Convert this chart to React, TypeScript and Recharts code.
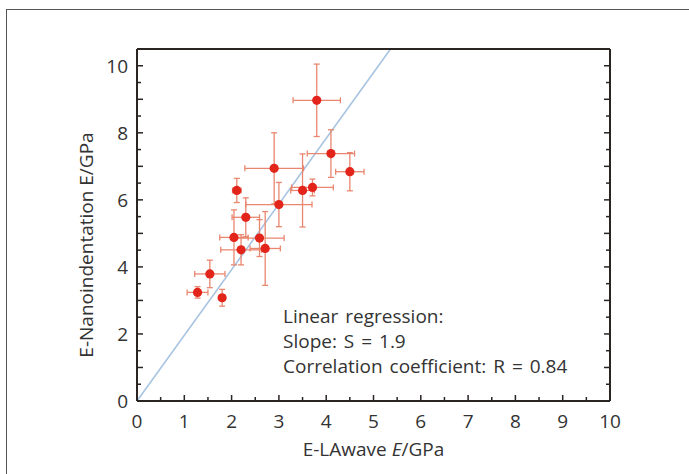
import {
  ScatterChart,
  Scatter,
  XAxis,
  YAxis,
  ErrorBar,
  ReferenceLine,
  Label,
  Customized,
} from "recharts";

// E-LAwave (x) vs E-Nanoindentation (y), GPa
const xVals = [1.28, 1.54, 1.8, 2.05, 2.11, 2.2, 2.3, 2.59, 2.71, 2.9, 3.0, 3.5, 3.71, 3.8, 4.1, 4.5];
const yVals = [3.24, 3.79, 3.08, 4.88, 6.28, 4.51, 5.48, 4.86, 4.55, 6.94, 5.86, 6.28, 6.37, 8.97, 7.38, 6.84];
const xErr = [0.22, 0.32, 0.06, 0.3, 0.09, 0.43, 0.29, 0.52, 0.32, 0.62, 0.7, 0.25, 0.44, 0.5, 0.5, 0.3];
const yErr = [0.17, 0.41, 0.25, 0.82, 0.36, 0.45, 0.58, 0.55, 1.1, 1.06, 0.66, 1.09, 0.25, 1.08, 0.71, 0.57];

// regression line end points
const fitX = [0, 5.36];
const fitY = [0, 10.5];

const xLabels = [0, 1, 2, 3, 4, 5, 6, 7, 8, 9, 10];
const yLabels = [0, 2, 4, 6, 8, 10];
const minorTicks = Array.from({ length: 21 }, (_, i) => i * 0.5);

const points = xVals.map((x, i) => ({ x, y: yVals[i], ex: xErr[i], ey: yErr[i] }));

const FONT = "'Open Sans', sans-serif";
const TEXT = "#333";
const AXIS = "#2a2422";

const tickLen = (v: number) => (Number.isInteger(v) ? 6 : 4);

const BottomTick = (p: any) => {
  const v = p.payload.value;
  return (
    <g>
      <line x1={p.x} x2={p.x} y1={p.y} y2={p.y - tickLen(v)} stroke={AXIS} strokeWidth={1.5} />
      {xLabels.includes(v) && (
        <text x={p.x} y={p.y + 27} textAnchor="middle" fontSize={19} fill={TEXT} fontFamily={FONT}>
          {v}
        </text>
      )}
    </g>
  );
};

const TopTick = (p: any) => (
  <line x1={p.x} x2={p.x} y1={p.y} y2={p.y + tickLen(p.payload.value)} stroke={AXIS} strokeWidth={1.5} />
);

const LeftTick = (p: any) => {
  const v = p.payload.value;
  return (
    <g>
      <line x1={p.x} x2={p.x + tickLen(v)} y1={p.y} y2={p.y} stroke={AXIS} strokeWidth={1.5} />
      {yLabels.includes(v) && (
        <text x={p.x - 9} y={p.y} dy="0.36em" textAnchor="end" fontSize={19} fill={TEXT} fontFamily={FONT}>
          {v}
        </text>
      )}
    </g>
  );
};

const RightTick = (p: any) => (
  <line x1={p.x} x2={p.x - tickLen(p.payload.value)} y1={p.y} y2={p.y} stroke={AXIS} strokeWidth={1.5} />
);

const Dot = (p: any) => <circle cx={p.cx} cy={p.cy} r={4.6} fill="#e3241b" />;

const XTitle = (p: any) => {
  const vb = p.viewBox;
  return (
    <text x={vb.x + vb.width / 2} y={vb.y + 55} textAnchor="middle" fontSize={19} fill={TEXT} fontFamily={FONT}>
      E-LAwave <tspan fontStyle="italic">E</tspan>/GPa
    </text>
  );
};

const YTitle = (p: any) => {
  const vb = p.viewBox;
  const cx = vb.x + vb.width - 51;
  const cy = vb.y + vb.height / 2 + 20;
  return (
    <text
      x={cx}
      y={cy}
      transform={`rotate(-90 ${cx} ${cy})`}
      textAnchor="middle"
      dy="0.36em"
      fontSize={19}
      fill={TEXT}
      fontFamily={FONT}
    >
      E-Nanoindentation E/GPa
    </text>
  );
};

const Annotation = () => (
  <g fontSize={19} fill={TEXT} fontFamily={FONT} wordSpacing={2}>
    <text x={283} y={323}>Linear regression:</text>
    <text x={283} y={348}>Slope: S = 1.9</text>
    <text x={283} y={373}>Correlation coefficient: R = 0.84</text>
  </g>
);

export default function App() {
  const axisLine = { stroke: AXIS, strokeWidth: 2 };
  return (
    <div style={{ position: "relative", width: 689, height: 474, background: "#fff" }}>
      <style>{"body{margin:0;overflow:hidden}"}</style>
      <div
        style={{
          position: "absolute",
          left: 6,
          top: 9,
          width: 683,
          height: 465,
          borderLeft: "1px solid #555",
          borderTop: "1px solid #555",
          boxSizing: "border-box",
        }}
      />
      <div style={{ position: "absolute", left: 0, top: 0 }}>
        <ScatterChart width={689} height={474} margin={{ top: 48, right: 78, bottom: 72, left: 136 }}>
          <XAxis
            xAxisId="b"
            type="number"
            dataKey="x"
            domain={[0, 10]}
            ticks={minorTicks}
            interval={0}
            height={1}
            tickSize={0}
            tickMargin={0}
            tickLine={false}
            axisLine={axisLine}
            tick={BottomTick}
            allowDataOverflow
          >
            <Label content={XTitle} />
          </XAxis>
          <XAxis
            xAxisId="t"
            orientation="top"
            type="number"
            domain={[0, 10]}
            ticks={minorTicks}
            interval={0}
            height={1}
            tickSize={0}
            tickMargin={0}
            tickLine={false}
            axisLine={axisLine}
            tick={TopTick}
            allowDataOverflow
          />
          <YAxis
            yAxisId="l"
            type="number"
            dataKey="y"
            domain={[0, 10.5]}
            ticks={minorTicks}
            interval={0}
            width={1}
            tickSize={0}
            tickMargin={0}
            tickLine={false}
            axisLine={axisLine}
            tick={LeftTick}
            allowDataOverflow
          >
            <Label content={YTitle} />
          </YAxis>
          <YAxis
            yAxisId="r"
            orientation="right"
            type="number"
            domain={[0, 10.5]}
            ticks={minorTicks}
            interval={0}
            width={1}
            tickSize={0}
            tickMargin={0}
            tickLine={false}
            axisLine={axisLine}
            tick={RightTick}
            allowDataOverflow
          />
          <ReferenceLine
            xAxisId="b"
            yAxisId="l"
            segment={[
              { x: fitX[0], y: fitY[0] },
              { x: fitX[1], y: fitY[1] },
            ]}
            stroke="#a8c4e2"
            strokeWidth={1.6}
            ifOverflow="visible"
          />
          <Scatter
            xAxisId="b"
            yAxisId="l"
            data={points}
            shape={Dot}
            isAnimationActive={false}
          >
            <ErrorBar dataKey="ex" direction="x" width={3} stroke="#e9866f" strokeWidth={1.3} />
            <ErrorBar dataKey="ey" direction="y" width={3} stroke="#e9866f" strokeWidth={1.3} />
          </Scatter>
          <Customized component={Annotation} />
        </ScatterChart>
      </div>
    </div>
  );
}
